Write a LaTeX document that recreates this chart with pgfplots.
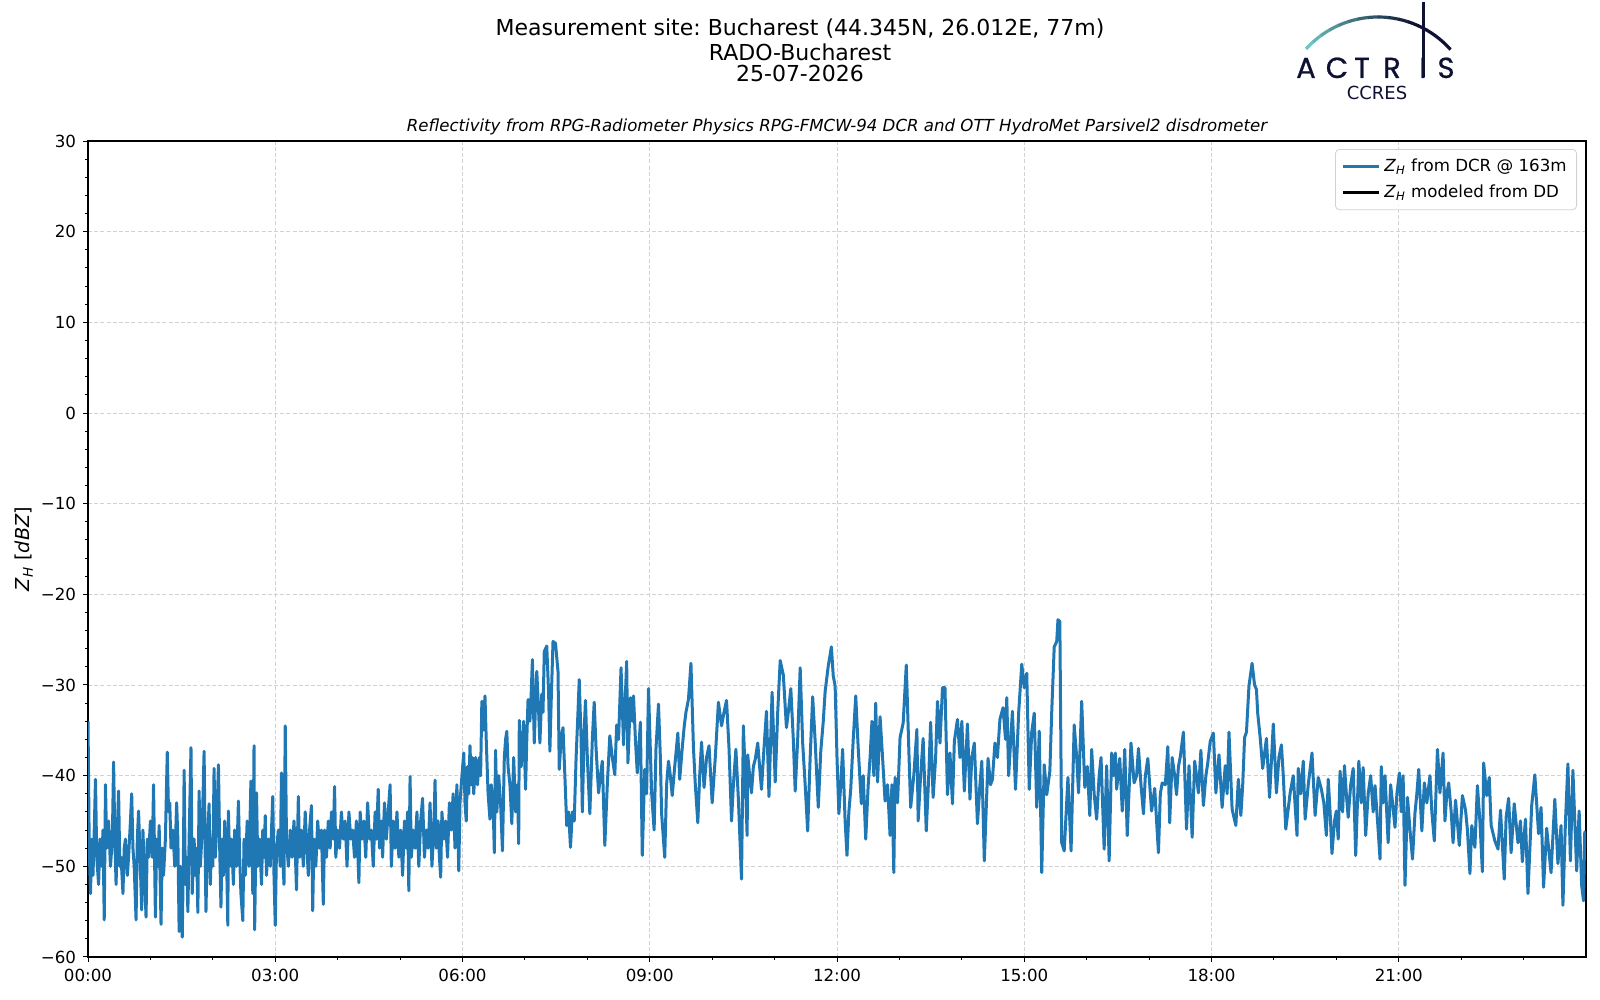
\documentclass[border=0pt]{standalone}
\usepackage{pgfplots}
\pgfplotsset{compat=1.18}
\usepackage{pgfplotstable}
\usepackage{fontspec}
\setmainfont{DejaVu Sans}
\newfontfamily\logofont[FakeBold=0.8]{Poppins}
\definecolor{mplblue}{HTML}{1F77B4}
\definecolor{navy}{HTML}{0E1133}
\definecolor{teal1}{HTML}{6CC6C1}
\newcommand{\ZH}{\textit{Z}\textsubscript{\textit{H}}}
\newcommand{\tickfont}{\fontsize{8.33}{10}\selectfont}
\frenchspacing
\pgfplotstableread{
t v
0.00 -34
0.02 -48
0.04 -53
0.06 -47
0.08 -51
0.10 -46
0.12 -40.4
0.14 -49
0.17 -52
0.19 -47
0.22 -50
0.24 -46
0.26 -55.9
0.28 -41
0.30 -48
0.33 -45
0.36 -50
0.39 -47
0.41 -38.5
0.43 -47
0.45 -52
0.47 -46
0.49 -41.7
0.51 -50
0.53 -49
0.56 -53
0.58 -48
0.60 -47
0.63 -51
0.65 -49
0.68 -45
0.70 -42
0.72 -48
0.74 -50
0.77 -55.9
0.79 -47
0.81 -43.9
0.83 -48
0.86 -54.8
0.88 -46
0.90 -50
0.93 -55.6
0.95 -47
0.97 -49
1.00 -45
1.03 -49
1.05 -41
1.08 -55.6
1.10 -47
1.12 -50
1.14 -45.5
1.17 -56.4
1.19 -48
1.21 -51
1.24 -47
1.27 -37.4
1.29 -44
1.31 -43
1.33 -48
1.36 -46
1.39 -50
1.42 -43
1.44 -47
1.46 -57.2
1.48 -50
1.51 -57.8
1.53 -48
1.54 -39.4
1.56 -52
1.58 -49
1.60 -55
1.62 -47
1.65 -36.9
1.67 -53
1.70 -47
1.72 -51
1.74 -48
1.76 -55.1
1.78 -41.7
1.80 -50
1.83 -46
1.86 -37.3
1.88 -50
1.89 -55
1.91 -48
1.94 -43.1
1.96 -52
1.98 -47
2.00 -50
2.02 -39.2
2.04 -49
2.06 -46
2.09 -38.8
2.11 -48
2.13 -54.5
2.15 -47
2.17 -51
2.19 -45
2.22 -49
2.24 -56.5
2.25 -43.9
2.27 -50
2.30 -47
2.33 -52
2.35 -46
2.38 -50
2.41 -42.8
2.43 -49
2.45 -53
2.48 -56
2.50 -47
2.52 -51
2.55 -45
2.58 -50
2.61 -40.6
2.63 -48
2.64 -53
2.66 -36.7
2.67 -57
2.70 -41.9
2.72 -50
2.75 -47
2.78 -52
2.80 -46
2.82 -49
2.84 -44.4
2.86 -51
2.89 -47
2.92 -50
2.94 -46
2.96 -42.3
2.98 -51
3.00 -56.5
3.02 -48
3.05 -46
3.08 -50
3.10 -39.7
3.12 -49
3.14 -52
3.16 -34.5
3.18 -47
3.21 -50
3.24 -46
3.27 -49
3.30 -45
3.32 -48
3.34 -52.6
3.37 -42.3
3.39 -49
3.42 -46
3.45 -50
3.48 -44
3.50 -47
3.53 -51
3.55 -46
3.58 -43.3
3.60 -54.9
3.62 -47
3.65 -50
3.68 -45
3.71 -48
3.74 -46
3.77 -54.2
3.79 -46
3.82 -49
3.85 -45
3.88 -48
3.90 -44
3.93 -47
3.95 -41.2
3.97 -49
4.00 -46
4.03 -48
4.06 -44
4.09 -47
4.12 -45
4.15 -50
4.18 -44
4.21 -47
4.24 -46
4.27 -49
4.30 -45
4.32 -48
4.34 -51.8
4.36 -44
4.39 -47
4.42 -45
4.45 -49
4.48 -43
4.51 -47
4.54 -46
4.57 -50
4.60 -44
4.62 -47
4.65 -41.5
4.67 -48
4.70 -45
4.72 -49
4.75 -43
4.78 -47
4.81 -44
4.84 -41
4.86 -50
4.89 -45
4.92 -48
4.95 -44
4.98 -49
5.01 -46
5.04 -51
5.07 -45
5.10 -48
5.12 -44
5.14 -52.7
5.16 -40.1
5.18 -49
5.21 -46
5.24 -48
5.27 -44
5.30 -50
5.33 -45
5.36 -42.5
5.39 -49
5.42 -46
5.45 -48
5.48 -43
5.51 -50
5.54 -46
5.56 -40.5
5.58 -48
5.61 -45
5.63 -49
5.65 -51.2
5.67 -44
5.70 -47
5.73 -45
5.76 -49
5.79 -43
5.82 -46
5.85 -42
5.88 -48
5.91 -41
5.94 -50.5
5.96 -43
5.98 -41
6.02 -37.5
6.04 -43
6.06 -45
6.08 -39
6.10 -42
6.12 -36.7
6.14 -41
6.16 -38
6.18 -42
6.21 -38
6.24 -41
6.27 -38
6.29 -40
6.31 -31.8
6.33 -35
6.36 -31.2
6.38 -36
6.41 -42
6.44 -44.8
6.46 -41
6.49 -43
6.51 -48.5
6.53 -37.2
6.55 -44
6.58 -40
6.61 -43
6.64 -48.3
6.67 -38
6.69 -36
6.71 -35.1
6.73 -39
6.76 -41
6.79 -45.3
6.82 -38
6.85 -44
6.88 -41
6.90 -47.5
6.91 -33.9
6.94 -39
6.96 -37
6.98 -34
7.01 -41.5
7.03 -36
7.05 -31.6
7.08 -34
7.10 -31
7.12 -27.2
7.15 -36.4
7.17 -32
7.19 -28.5
7.22 -33
7.24 -36.4
7.27 -31
7.29 -33
7.31 -26.3
7.35 -25.7
7.38 -31
7.40 -37.3
7.42 -32
7.45 -25.2
7.49 -25.4
7.53 -28.5
7.55 -39.3
7.58 -36
7.61 -34.7
7.64 -40
7.67 -45.5
7.70 -44
7.73 -47.9
7.76 -44
7.79 -45
7.82 -38
7.85 -33
7.87 -29.4
7.90 -36
7.92 -44
7.95 -35
7.97 -31.7
8.00 -38
8.04 -44.2
8.08 -36
8.11 -31.9
8.14 -37
8.18 -41.9
8.21 -40
8.24 -38.4
8.28 -47.7
8.32 -41
8.36 -35.6
8.40 -38
8.44 -39.9
8.47 -34.4
8.50 -36
8.54 -28.1
8.58 -36.6
8.63 -27.4
8.65 -38.6
8.69 -31.4
8.72 -34
8.74 -31.2
8.77 -36
8.80 -39.7
8.85 -34.1
8.88 -48.8
8.92 -39.3
8.95 -42
8.98 -30.4
9.03 -41.9
9.07 -46
9.10 -37
9.14 -32.1
9.17 -38
9.19 -44.2
9.24 -49
9.27 -41
9.30 -38.4
9.33 -40
9.36 -42.2
9.40 -39
9.45 -35.3
9.48 -40.4
9.52 -37
9.55 -34.7
9.58 -33
9.62 -31.6
9.66 -27.6
9.70 -36.9
9.73 -41
9.77 -45.2
9.80 -40
9.83 -36.3
9.87 -41.3
9.91 -38
9.95 -36.7
10.00 -43
10.05 -38
10.10 -31.9
10.15 -34.5
10.19 -33
10.23 -31.7
10.27 -37
10.31 -45
10.34 -41
10.38 -37.1
10.42 -42.6
10.47 -51.4
10.50 -34.5
10.53 -40
10.56 -46.6
10.57 -37.7
10.60 -40
10.63 -41.9
10.66 -39
10.69 -38.2
10.73 -36.4
10.76 -39
10.79 -41.5
10.83 -37
10.87 -32.9
10.91 -42.3
10.96 -30.8
11.01 -40.7
11.05 -33
11.09 -27.3
11.14 -28.9
11.19 -34.7
11.22 -33
11.26 -30.4
11.30 -36
11.33 -41.7
11.37 -36
11.41 -28.1
11.45 -36.4
11.49 -41
11.53 -46.1
11.57 -38
11.61 -31.3
11.65 -36.2
11.70 -43.5
11.74 -37.3
11.78 -34
11.81 -30.7
11.86 -27.9
11.91 -25.8
11.94 -29
11.97 -30.1
12.00 -38
12.03 -44.2
12.06 -41
12.09 -37.1
12.13 -45
12.16 -48.8
12.19 -44
12.22 -41.5
12.26 -36
12.30 -31.2
12.34 -37
12.39 -43.1
12.42 -40
12.46 -47
12.50 -41
12.53 -38
12.56 -34
12.59 -40
12.62 -32
12.65 -40.7
12.69 -33.5
12.73 -38
12.77 -42.8
12.81 -41
12.85 -46.6
12.88 -41
12.91 -50.7
12.93 -40.2
12.97 -43
13.01 -35.8
13.06 -34.2
13.11 -27.8
13.15 -37
13.18 -43.5
13.23 -40
13.28 -34.9
13.30 -45
13.34 -40
13.38 -35.9
13.43 -46.1
13.47 -40
13.50 -34.1
13.54 -42.4
13.58 -38
13.61 -31.8
13.65 -36.4
13.69 -30.3
13.73 -30.3
13.77 -42.1
13.81 -37.5
13.85 -43.1
13.88 -36.2
13.93 -33.8
13.97 -38
14.00 -34
14.04 -41.7
14.09 -34.3
14.13 -42.6
14.16 -38
14.20 -36.4
14.25 -45.3
14.29 -41
14.32 -38.4
14.36 -49.4
14.42 -38.1
14.46 -41
14.49 -40.4
14.53 -36.4
14.57 -38
14.61 -33.8
14.66 -32.5
14.70 -36
14.72 -31.4
14.75 -40
14.81 -32.9
14.86 -41.5
14.91 -33.1
14.96 -27.7
15.00 -30.3
15.04 -28.7
15.08 -41.5
15.12 -35.2
15.16 -33.1
15.20 -43.5
15.24 -35.1
15.28 -50.7
15.32 -38.8
15.36 -42.1
15.41 -39.5
15.44 -33
15.48 -25.8
15.52 -25.2
15.54 -22.8
15.57 -23
15.60 -47.4
15.64 -48.3
15.70 -40.2
15.75 -48.3
15.80 -34.4
15.84 -38
15.87 -41.9
15.92 -31.8
15.97 -41.3
16.01 -39
16.05 -44.4
16.08 -37.1
16.12 -42
16.16 -44.8
16.20 -40
16.23 -38
16.28 -48.1
16.32 -38.9
16.36 -49.4
16.40 -37.5
16.43 -40
16.46 -37.5
16.48 -41.5
16.53 -38.1
16.57 -43.9
16.61 -37.1
16.65 -46.6
16.71 -36.4
16.76 -40.8
16.80 -40
16.83 -37
16.87 -41
16.91 -44.2
16.94 -40
16.98 -38.1
17.01 -41
17.04 -43.9
17.09 -41.4
17.12 -45
17.15 -48.5
17.18 -42
17.21 -40.8
17.26 -41
17.30 -36.8
17.33 -45.2
17.37 -38
17.41 -40
17.44 -42.1
17.47 -39
17.50 -37.9
17.55 -35.2
17.60 -45.9
17.64 -38.9
17.69 -46.8
17.73 -38.4
17.76 -40
17.79 -41.9
17.83 -37.2
17.87 -43.3
17.91 -40
17.94 -38.6
17.98 -36.2
18.03 -35.3
18.07 -41.9
18.12 -37.7
18.17 -43.5
18.22 -38.9
18.25 -42
18.28 -35.2
18.33 -43.7
18.39 -45.5
18.43 -40.4
18.47 -44.4
18.50 -41
18.53 -35.8
18.56 -35.2
18.60 -30.1
18.65 -27.6
18.69 -30
18.72 -30.5
18.74 -33.1
18.78 -35.8
18.82 -39.2
18.88 -35.9
18.93 -42.4
18.99 -34.3
19.04 -41.9
19.08 -38
19.12 -36.6
19.15 -40
19.19 -45.9
19.26 -41.9
19.31 -40
19.37 -46.6
19.39 -39.2
19.43 -42
19.47 -38.4
19.50 -44.8
19.55 -41
19.61 -37.5
19.66 -44.4
19.71 -40.2
19.76 -41.5
19.80 -43
19.84 -46.6
19.87 -40.4
19.90 -44
19.93 -48.6
19.97 -45
20.00 -43.9
20.03 -47
20.06 -39.5
20.10 -44
20.13 -38.9
20.16 -42
20.19 -44.6
20.23 -41
20.27 -39.2
20.31 -48.8
20.36 -38.4
20.40 -43
20.43 -39.1
20.47 -46.6
20.51 -42
20.55 -40
20.59 -44
20.62 -41.1
20.66 -45
20.70 -49.2
20.72 -39
20.75 -43
20.78 -40
20.83 -47.4
20.87 -41
20.90 -43
20.94 -45.7
20.97 -42
21.01 -39.7
21.04 -44
21.07 -40
21.10 -52.1
21.14 -42.4
21.18 -46
21.22 -49.2
21.26 -44.1
21.29 -42
21.32 -39.3
21.37 -46.1
21.41 -40.8
21.45 -43
21.50 -40
21.53 -44
21.57 -47.2
21.62 -37.1
21.66 -41.9
21.71 -37.5
21.74 -45
21.77 -42
21.80 -40.8
21.84 -44
21.87 -47.4
21.91 -42.7
21.97 -47.7
22.02 -42.2
22.07 -43.8
22.10 -46
22.14 -50.8
22.17 -45.5
22.22 -47.9
22.26 -41.1
22.30 -45
22.34 -50.6
22.36 -38.6
22.41 -42.2
22.45 -40.2
22.48 -45.5
22.54 -47.2
22.59 -48.1
22.63 -43.8
22.69 -51.4
22.72 -44.6
22.76 -42.5
22.80 -48.5
22.85 -43.1
22.91 -47.4
22.95 -45
22.98 -49.5
23.03 -44.8
23.07 -53
23.13 -43.3
23.18 -39.9
23.24 -46.4
23.28 -43.5
23.32 -52.3
23.37 -45.8
23.44 -50.7
23.50 -42.6
23.55 -49.7
23.60 -45.5
23.63 -54.3
23.67 -45.2
23.71 -38.7
23.75 -49.4
23.79 -39.4
23.85 -50.5
23.89 -43.9
23.93 -52.1
23.96 -53.8
23.98 -46.2
24.00 -48
}\dcr
\begin{document}
\begin{tikzpicture}
\path[use as bounding box] (-44pt,-21.5pt) rectangle (756pt,478.5pt);
\begin{axis}[
  at={(0pt,0pt)}, anchor=south west,
  scale only axis, width=749pt, height=408pt,
  xmin=0, xmax=24, ymin=-60, ymax=30,
  xtick={0,3,...,21},
  xticklabels={00:00,03:00,06:00,09:00,12:00,15:00,18:00,21:00},
  minor xtick={1,2,4,5,7,8,10,11,13,14,16,17,19,20,22,23},
  ytick={-60,-50,...,30},
  yticklabels={−60,−50,−40,−30,−20,−10,0,10,20,30},
  minor y tick num=4,
  tick align=outside, tickpos=left,
  major tick length=2.45pt, minor tick length=1.4pt,
  every tick/.style={black, line width=0.5pt},
  axis line style={line width=0.6pt},
  ticklabel style={font=\tickfont},
  xmajorgrids, ymajorgrids,
  major grid style={gray!35, line width=0.45pt, dash pattern=on 2pt off 1.1pt},
  legend style={at={(1,1)}, anchor=north east, xshift=-4.5pt, yshift=-4pt,
    draw=gray!35, rounded corners=2pt, fill=white, fill opacity=0.8, text opacity=1,
    font=\tickfont, row sep=1.5pt, inner xsep=3pt, inner ysep=2.5pt,
    cells={anchor=west}},
  legend image code/.code={\draw[#1, line width=1.5pt] (0pt,0pt) -- (18pt,0pt);},
]
\addplot[mplblue, line width=1.5pt, line join=round] table[x=t, y=v] {\dcr};
\addlegendentry{\ZH{} from DCR @ 163m}
\addlegendimage{black}
\addlegendentry{\ZH{} modeled from DD}
\end{axis}
% titles
\node[font=\fontsize{11}{13}\selectfont] at (356pt,464pt) {Measurement site: Bucharest (44.345N, 26.012E, 77m)};
\node[font=\fontsize{11}{13}\selectfont] at (356pt,452.5pt) {RADO-Bucharest};
\node[font=\fontsize{11}{13}\selectfont] at (356pt,441.5pt) {25-07-2026};
\node[font=\fontsize{8.3}{10}\selectfont\itshape] at (374.5pt,415pt) {Reflectivity from RPG-Radiometer Physics RPG-FMCW-94 DCR and OTT HydroMet Parsivel2 disdrometer};
\node[font=\fontsize{9.6}{11}\selectfont, rotate=90] at (-32pt,204pt) {\ZH{} [\textit{dBZ}]};
% logo
\foreach \i in {0,...,15}{
  \pgfmathsetmacro\a{137.9-6*\i}
  \pgfmathsetmacro\b{\a-6.3}
  \pgfmathtruncatemacro\p{min(100,\i*9)}
  \draw[line width=1.6pt, color=navy!\p!teal1] ([shift={(\a:48.5pt)}]645pt,421.5pt) arc[start angle=\a, end angle=\b, radius=48.5pt];
}
\draw[navy, line width=1.5pt] (667.5pt,477.5pt) -- (667.5pt,440pt);
\foreach \x/\l in {609/A,624.5/C,637/T,652/R,667.5/I,679/S}{
  \node[anchor=base, inner sep=0pt, text=navy, font=\logofont\fontsize{14.5}{14.5}\selectfont] at (\x pt,439.5pt) {\l};
}
\node[anchor=base, inner sep=0pt, text=navy, font=\fontsize{9}{9}\selectfont] at (644.5pt,428.5pt) {CCRES};
\end{tikzpicture}
\end{document}
